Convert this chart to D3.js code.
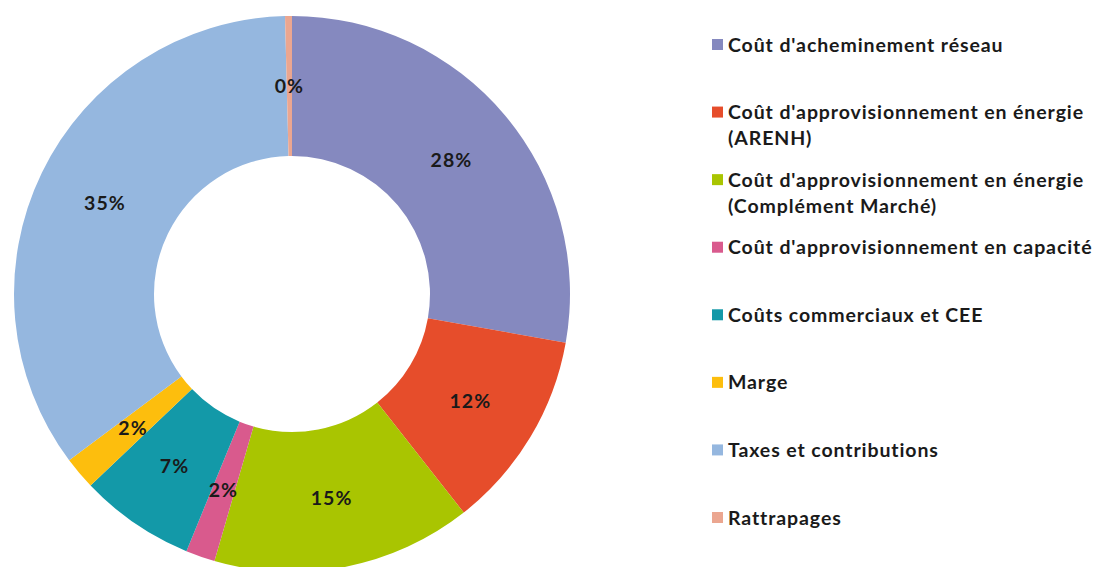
<!DOCTYPE html>
<html><head><meta charset="utf-8">
<script src="https://cdn.jsdelivr.net/npm/d3@7"></script>
<style>
html,body{margin:0;padding:0;background:#fff;}
svg text{font-family:Lato,"Open Sans",sans-serif;font-weight:bold;fill:#1a1a1a;}
</style></head>
<body><svg id="c" width="1097" height="567"></svg>
<script>
const categories = [
  "Coût d'acheminement réseau",
  "Coût d'approvisionnement en énergie (ARENH)",
  "Coût d'approvisionnement en énergie (Complément Marché)",
  "Coût d'approvisionnement en capacité",
  "Coûts commerciaux et CEE",
  "Marge",
  "Taxes et contributions",
  "Rattrapages"
];
const legendLines = [
  ["Coût d'acheminement réseau"],
  ["Coût d'approvisionnement en énergie", "(ARENH)"],
  ["Coût d'approvisionnement en énergie", "(Complément Marché)"],
  ["Coût d'approvisionnement en capacité"],
  ["Coûts commerciaux et CEE"],
  ["Marge"],
  ["Taxes et contributions"],
  ["Rattrapages"]
];
const values = [27.8, 11.6, 15.1, 1.7, 6.7, 1.9, 34.8, 0.4];
const labels = ["28%", "12%", "15%", "2%", "7%", "2%", "35%", "0%"];
const colors = ["#8589BF", "#E64D2B", "#A9C501", "#D95A8D", "#1399A8", "#FDBE0D", "#95B7DF", "#EBA690"];

const svg = d3.select("#c");
const cx = 292, cy = 294, R = 278, r0 = 138;
const g = svg.append("g").attr("transform", `translate(${cx},${cy})`);
const pie = d3.pie().sort(null).value(d => d.v);
const data = pie(values.map((v, i) => ({v, i})));
const arc = d3.arc().innerRadius(r0).outerRadius(R);
g.selectAll("path").data(data).join("path")
  .attr("d", arc).attr("fill", d => colors[d.data.i])
  .attr("stroke", "none");
g.selectAll("text").data(data).join("text")
  .attr("transform", d => `translate(${arc.centroid(d)})`)
  .attr("text-anchor", "middle").attr("dy", "0.36em")
  .style("font-size", "19.5px").style("letter-spacing", "1.1px")
  .text(d => labels[d.data.i]);

const legY = d3.scalePoint().domain(d3.range(categories.length)).range([45, 518]);
const leg = svg.append("g");
const items = leg.selectAll("g").data(categories).join("g")
  .attr("transform", (d, i) => `translate(712,${legY(i)})`);
items.append("rect").attr("x", 0).attr("y", -6).attr("width", 11).attr("height", 11)
  .attr("fill", (d, i) => colors[i]);
items.each(function(d, i) {
  const t = d3.select(this).append("text").attr("x", 16).attr("y", 6.5)
    .style("font-size", "19.5px").style("letter-spacing", "0.9px");
  legendLines[i].forEach((line, k) => {
    t.append("tspan").attr("x", 16).attr("dy", k === 0 ? 0 : 26).text(line);
  });
});
</script></body></html>
